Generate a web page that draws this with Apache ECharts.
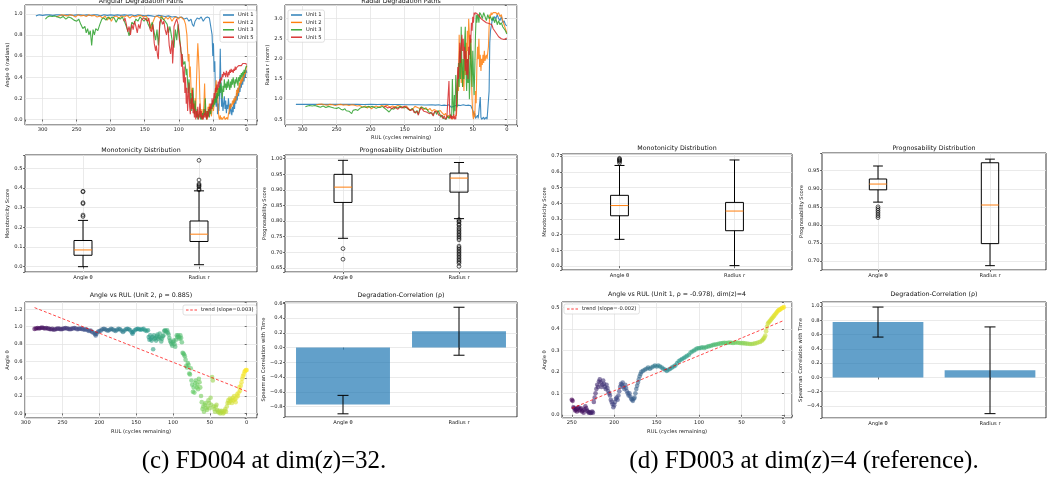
<!DOCTYPE html>
<html>
<head>
<meta charset="utf-8">
<title>Degradation paths FD004 / FD003</title>
<script src="https://cdn.jsdelivr.net/npm/echarts@6/dist/echarts.min.js"></script>
<style>
html, body { margin: 0; padding: 0; background: #fff; }
#container { width: 1053px; height: 482px; }
</style>
</head>
<body>
<div id="container"></div>
<script>
// ---- data: top row (FD004, dim(z)=32), [RUL, value]
var angU1 = [[310,0.98],[305,0.99],[300,0.985],[295,0.99],[290,0.99],[285,0.985],[280,0.99],[275,0.99],[270,0.985],[265,0.99],[260,0.99],[255,0.985],[250,0.99],[245,0.99],[240,0.985],[235,0.99],[230,0.985],[225,0.99],[220,0.99],[215,0.98],[210,0.99],[205,0.985],[200,0.99],[195,0.985],[190,0.99],[185,0.985],[180,0.99],[175,0.985],[170,0.99],[165,0.98],[160,0.99],[155,0.985],[150,0.98],[145,0.985],[140,0.98],[135,0.975],[130,0.985],[125,0.98],[120,0.975],[115,0.98],[110,0.97],[105,0.975],[100,0.96],[96,0.97],[92,0.95],[88,0.96],[85,0.93],[82,0.95],[80,0.9],[78,0.88],[76,0.93],[73,0.96],[70,0.95],[67,0.97],[64,0.93],[61,0.96],[58,0.97],[55,0.96],[53,0.97],[51,0.8],[50,0.6],[49,0.72],[48,0.45],[47,0.55],[46,0.2],[45,0.12],[44,0.3],[43,0.05],[42,0.15],[41,0.08],[40,0.25],[39,0.67],[38,0.3],[37,0.12],[36,0.2],[35,0.08],[34,0.15],[33,0.22],[32,0.1],[31,0.18],[30,0.06],[29,0.14],[28,0.1],[27,0.2],[26,0.12],[25,0.05],[24,0.15],[23,0.08],[22,0.04],[21,0.12],[20,0.07],[19,0.18],[18,0.1],[17,0.22],[16,0.15],[15,0.25],[14,0.18],[13,0.3],[12,0.22],[11,0.32],[10,0.26],[9,0.35],[8,0.3],[7,0.38],[6,0.33],[5,0.42],[4,0.36],[3,0.45],[2,0.4],[1,0.47],[0,0.44]];
var angU2 = [[280,0.97],[276,0.98],[272,0.99],[268,0.985],[264,0.98],[260,0.99],[256,0.985],[252,0.97],[248,0.99],[244,0.98],[240,0.985],[236,0.975],[232,0.99],[228,0.98],[224,0.985],[220,0.97],[216,0.98],[212,0.96],[208,0.98],[205,0.94],[202,0.97],[199,0.93],[196,0.97],[192,0.98],[188,0.96],[184,0.98],[180,0.97],[176,0.985],[172,0.96],[168,0.98],[164,0.97],[160,0.98],[156,0.985],[152,0.97],[148,0.98],[145,0.95],[142,0.9],[140,0.85],[138,0.92],[135,0.97],[132,0.98],[128,0.96],[125,0.98],[122,0.94],[119,0.97],[116,0.95],[113,0.97],[110,0.93],[107,0.96],[104,0.97],[101,0.95],[98,0.97],[95,0.96],[92,0.94],[90,0.9],[88,0.8],[87,0.65],[86,0.55],[85,0.62],[84,0.4],[83,0.5],[82,0.3],[81,0.22],[80,0.3],[79,0.1],[78,0.15],[77,0.05],[76,0.2],[75,0.1],[74,0.35],[73,0.55],[72,0.72],[71,0.6],[70,0.45],[69,0.2],[68,0.08],[67,0.02],[66,0.1],[65,0.0],[64,0.05],[63,0.15],[62,0.34],[61,0.1],[60,0.02],[59,0.08],[58,0.0],[57,0.12],[56,0.05],[55,0.15],[54,0.06],[53,0.12],[52,0.03],[51,0.1],[50,0.18],[49,0.08],[48,0.14],[47,0.22],[46,0.3],[45,0.37],[44,0.2],[43,0.3],[42,0.1],[41,0.02],[40,0.0],[39,0.04],[38,0.0],[37,0.02],[36,0.0],[35,0.01],[34,0.0],[33,0.03],[32,0.0],[31,0.01],[30,0.0],[29,0.02],[28,0.0],[27,0.05],[26,0.08],[25,0.14],[24,0.1],[23,0.15],[22,0.12],[21,0.18],[20,0.14],[19,0.2],[18,0.16],[17,0.22],[16,0.18],[15,0.28],[14,0.22],[13,0.3],[12,0.25],[11,0.35],[10,0.3],[9,0.38],[8,0.34],[7,0.4],[6,0.36],[5,0.42],[4,0.4],[3,0.45],[2,0.43],[1,0.48],[0,0.51]];
var angU3 = [[296,0.95],[293,0.97],[290,0.98],[286,0.975],[282,0.98],[278,0.97],[274,0.96],[270,0.975],[266,0.95],[262,0.97],[258,0.96],[254,0.94],[250,0.93],[247,0.95],[244,0.9],[241,0.86],[238,0.88],[236,0.82],[234,0.86],[232,0.8],[230,0.84],[228,0.7],[226,0.85],[224,0.8],[222,0.86],[219,0.84],[216,0.9],[213,0.95],[210,0.96],[207,0.94],[204,0.97],[201,0.95],[198,0.97],[195,0.96],[192,0.92],[189,0.96],[186,0.95],[183,0.97],[180,0.93],[177,0.88],[175,0.84],[173,0.79],[171,0.85],[169,0.92],[166,0.9],[163,0.95],[160,0.93],[157,0.97],[154,0.95],[151,0.93],[148,0.96],[145,0.9],[142,0.86],[139,0.92],[136,0.82],[134,0.75],[132,0.85],[130,0.7],[128,0.88],[126,0.97],[123,0.95],[120,0.93],[117,0.9],[115,0.82],[113,0.88],[111,0.8],[109,0.72],[107,0.68],[105,0.85],[103,0.75],[101,0.9],[99,0.8],[97,0.65],[95,0.6],[93,0.52],[91,0.55],[89,0.42],[88,0.48],[87,0.35],[86,0.25],[85,0.38],[84,0.3],[83,0.15],[82,0.25],[81,0.08],[80,0.2],[79,0.3],[78,0.12],[77,0.05],[76,0.18],[75,0.08],[74,0.02],[73,0.1],[72,0.0],[71,0.05],[70,0.02],[69,0.08],[68,0.0],[67,0.03],[66,0.0],[65,0.06],[64,0.02],[63,0.1],[62,0.04],[61,0.2],[60,0.05],[59,0.0],[58,0.08],[57,0.03],[56,0.1],[55,0.02],[54,0.12],[53,0.05],[52,0.15],[51,0.1],[50,0.18],[49,0.12],[48,0.2],[47,0.14],[46,0.22],[45,0.16],[44,0.25],[43,0.2],[42,0.3],[41,0.22],[40,0.32],[39,0.25],[38,0.35],[37,0.28],[36,0.2],[35,0.32],[34,0.26],[33,0.38],[32,0.3],[31,0.34],[30,0.28],[29,0.36],[28,0.3],[27,0.38],[26,0.32],[25,0.28],[24,0.36],[23,0.3],[22,0.38],[21,0.33],[20,0.4],[19,0.35],[18,0.3],[17,0.38],[16,0.34],[15,0.4],[14,0.36],[13,0.32],[12,0.4],[11,0.36],[10,0.42],[9,0.38],[8,0.44],[7,0.4],[6,0.45],[5,0.42],[4,0.47],[3,0.44],[2,0.48],[1,0.5],[0,0.51]];
var angU5 = [[181,0.93],[179,0.96],[177,0.9],[175,0.83],[173,0.88],[171,0.8],[169,0.9],[167,0.85],[165,0.93],[163,0.88],[161,0.82],[159,0.9],[157,0.86],[155,0.94],[152,0.96],[149,0.95],[146,0.93],[144,0.96],[142,0.85],[140,0.83],[138,0.9],[136,0.72],[134,0.65],[133,0.7],[131,0.6],[130,0.57],[129,0.75],[128,0.92],[126,0.95],[124,0.9],[122,0.93],[120,0.85],[118,0.8],[116,0.88],[114,0.7],[112,0.62],[110,0.75],[109,0.53],[108,0.65],[107,0.88],[105,0.92],[103,0.95],[101,0.9],[99,0.75],[97,0.68],[96,0.5],[95,0.62],[94,0.45],[93,0.35],[92,0.5],[91,0.25],[90,0.4],[89,0.15],[88,0.3],[87,0.08],[86,0.22],[85,0.35],[84,0.12],[83,0.05],[82,0.2],[81,0.1],[80,0.28],[79,0.06],[78,0.15],[77,0.02],[76,0.1],[75,0.0],[74,0.08],[73,0.02],[72,0.12],[71,0.0],[70,0.05],[69,0.15],[68,0.02],[67,0.08],[66,0.0],[65,0.04],[64,0.0],[63,0.06],[62,0.02],[61,0.1],[60,0.03],[59,0.0],[58,0.08],[57,0.02],[56,0.06],[55,0.12],[54,0.08],[53,0.15],[52,0.1],[51,0.2],[50,0.14],[49,0.18],[48,0.25],[47,0.2],[46,0.3],[45,0.26],[44,0.33],[43,0.28],[42,0.36],[41,0.3],[40,0.38],[39,0.34],[38,0.4],[37,0.37],[36,0.43],[35,0.4],[34,0.45],[33,0.42],[32,0.44],[31,0.4],[30,0.46],[29,0.43],[28,0.4],[27,0.45],[26,0.42],[25,0.47],[24,0.44],[23,0.48],[22,0.45],[21,0.47],[20,0.44],[19,0.48],[18,0.46],[17,0.5],[16,0.47],[15,0.49],[14,0.5],[12,0.51],[10,0.52],[8,0.51],[6,0.53],[4,0.52],[2,0.53],[0,0.52]];

var radU1 = [[310,0.87],[300,0.87],[290,0.87],[280,0.87],[270,0.87],[260,0.87],[250,0.87],[240,0.87],[230,0.87],[220,0.87],[210,0.865],[200,0.87],[190,0.865],[180,0.87],[170,0.865],[160,0.865],[150,0.86],[140,0.86],[130,0.86],[120,0.855],[110,0.86],[105,0.85],[100,0.86],[96,0.84],[92,0.85],[88,0.84],[85,0.86],[82,0.8],[80,0.77],[78,0.82],[75,0.84],[72,0.85],[68,0.84],[64,0.86],[60,0.84],[56,0.85],[53,0.84],[51,0.8],[50,0.72],[49,0.75],[48,0.6],[47,0.65],[46,0.52],[45,0.55],[44,0.5],[43,0.6],[42,0.52],[41,0.55],[40,0.5],[39,1.05],[38,0.55],[37,0.5],[36,0.52],[35,0.5],[34,0.55],[33,0.5],[32,0.52],[31,0.5],[30,0.55],[29,0.5],[28,0.52],[27,0.5],[26,1.2],[25,2.4],[24,2.7],[23,2.8],[22,2.9],[21,3.0],[20,2.95],[18,3.05],[16,3.0],[14,3.1],[12,3.0],[10,2.95],[8,3.05],[6,2.9],[4,2.95],[2,2.85],[0,2.82]];
var radU2 = [[280,0.86],[276,0.87],[272,0.88],[268,0.86],[264,0.85],[260,0.87],[256,0.86],[252,0.84],[248,0.86],[244,0.87],[240,0.85],[236,0.86],[232,0.84],[228,0.86],[224,0.85],[220,0.83],[216,0.84],[212,0.8],[208,0.83],[205,0.78],[202,0.82],[199,0.76],[196,0.8],[192,0.83],[188,0.8],[184,0.84],[180,0.82],[176,0.85],[172,0.8],[168,0.83],[164,0.81],[160,0.84],[156,0.82],[152,0.8],[148,0.83],[145,0.78],[142,0.72],[140,0.68],[138,0.76],[135,0.82],[132,0.8],[128,0.77],[125,0.81],[122,0.74],[119,0.79],[116,0.72],[113,0.77],[110,0.7],[107,0.74],[104,0.72],[101,0.68],[98,0.72],[95,0.66],[92,0.6],[90,0.65],[88,0.55],[86,0.6],[84,0.52],[82,0.58],[80,0.5],[78,0.55],[76,0.52],[74,0.6],[73,0.9],[72,1.5],[71,1.2],[70,2.6],[69,1.8],[68,2.2],[67,1.4],[66,2.0],[65,1.3],[64,1.7],[63,1.2],[62,2.1],[61,1.6],[60,2.4],[59,1.9],[58,2.7],[57,2.2],[56,3.0],[55,2.6],[54,2.0],[53,2.5],[52,1.5],[51,1.0],[50,0.6],[49,0.5],[48,0.7],[47,0.55],[46,1.2],[45,0.9],[44,1.8],[43,2.3],[42,2.0],[41,2.5],[40,1.8],[39,2.1],[38,1.7],[37,2.0],[36,1.85],[35,2.1],[34,1.9],[33,2.2],[32,1.95],[31,2.05],[30,2.1],[29,2.0],[28,2.15],[27,2.3],[26,2.8],[25,3.1],[24,3.05],[23,3.15],[22,3.1],[20,3.15],[18,3.12],[16,3.15],[14,3.1],[12,3.15],[10,3.05],[8,3.1],[6,2.95],[4,2.85],[2,2.75],[0,2.65]];
var radU3 = [[296,0.81],[293,0.83],[290,0.84],[286,0.83],[282,0.84],[278,0.82],[274,0.8],[270,0.83],[266,0.79],[262,0.82],[258,0.8],[254,0.78],[250,0.77],[247,0.79],[244,0.75],[241,0.73],[238,0.76],[236,0.71],[234,0.74],[232,0.7],[230,0.72],[228,0.64],[226,0.72],[224,0.7],[222,0.74],[219,0.72],[216,0.77],[213,0.8],[210,0.81],[207,0.79],[204,0.82],[201,0.8],[198,0.82],[195,0.8],[192,0.77],[189,0.8],[186,0.79],[183,0.82],[180,0.78],[177,0.74],[175,0.72],[173,0.68],[171,0.72],[169,0.77],[166,0.75],[163,0.8],[160,0.78],[157,0.82],[154,0.8],[151,0.78],[148,0.8],[145,0.75],[142,0.72],[139,0.77],[136,0.7],[134,0.65],[132,0.72],[130,0.62],[128,0.75],[126,0.8],[123,0.78],[120,0.76],[117,0.74],[115,0.68],[113,0.72],[111,0.66],[109,0.6],[107,0.58],[105,0.7],[103,0.62],[101,0.72],[99,0.65],[97,0.55],[95,0.6],[93,0.52],[91,0.56],[89,0.5],[87,0.58],[85,0.52],[83,0.62],[81,0.55],[80,1.5],[79,0.9],[78,0.6],[77,1.1],[76,0.7],[75,1.6],[74,1.2],[73,0.8],[72,1.4],[71,1.9],[70,1.3],[69,2.2],[68,1.5],[67,2.8],[66,1.8],[65,1.3],[64,2.0],[63,1.5],[62,2.4],[61,2.8],[60,1.7],[59,1.2],[58,2.0],[57,1.4],[56,2.2],[55,1.0],[54,1.6],[53,2.5],[52,1.8],[51,1.3],[50,2.2],[49,1.6],[48,1.1],[47,1.8],[46,2.6],[45,3.1],[44,2.9],[43,3.1],[42,3.05],[41,2.9],[40,3.15],[38,3.1],[36,3.0],[34,3.15],[32,3.05],[30,2.95],[28,3.1],[26,3.0],[24,3.05],[22,2.95],[20,3.05],[18,2.9],[16,3.0],[14,2.85],[12,2.95],[10,2.85],[8,2.9],[6,2.8],[4,2.75],[2,2.7],[0,2.62]];
var radU5 = [[181,0.8],[178,0.82],[175,0.78],[172,0.8],[169,0.76],[166,0.8],[163,0.78],[160,0.75],[157,0.8],[154,0.78],[151,0.82],[148,0.8],[145,0.76],[142,0.72],[140,0.7],[138,0.74],[136,0.66],[134,0.62],[132,0.7],[130,0.6],[128,0.72],[126,0.78],[124,0.75],[122,0.7],[120,0.74],[118,0.68],[116,0.72],[114,0.64],[112,0.6],[110,0.66],[108,0.58],[106,0.7],[104,0.74],[102,0.68],[100,0.6],[98,0.56],[96,0.6],[94,0.52],[92,0.58],[90,0.5],[88,0.56],[86,0.52],[85,1.45],[84,0.7],[83,0.52],[82,0.6],[81,0.5],[80,0.58],[79,0.52],[78,0.62],[77,0.5],[76,0.56],[75,0.5],[74,0.8],[73,1.4],[72,1.8],[71,1.5],[70,2.0],[69,2.4],[68,1.9],[67,2.3],[66,2.6],[65,2.2],[64,2.5],[63,2.0],[62,2.3],[61,1.7],[60,2.2],[59,1.6],[58,2.0],[57,1.5],[56,2.3],[55,2.1],[54,2.6],[53,2.4],[52,2.9],[51,2.7],[50,3.05],[49,2.9],[48,3.15],[47,3.1],[46,3.15],[44,3.12],[42,3.1],[40,3.05],[38,3.0],[36,3.02],[34,2.95],[32,2.98],[30,2.9],[28,2.92],[26,2.88],[24,2.9],[22,2.85],[20,2.75],[18,2.7],[16,2.65],[14,2.6],[12,2.55],[10,2.55],[8,2.5],[6,2.52],[4,2.48],[2,2.5],[0,2.52]];

// ---- box statistics: [whiskerLow, Q1, median, Q3, whiskerHigh] for Angle θ, Radius r
var boxCats = ['Angle θ', 'Radius r'];
var monoC = [[0.0, 0.058, 0.085, 0.133, 0.235], [0.01, 0.128, 0.165, 0.232, 0.385]];
var monoCOut = [[0.255, 0.262, 0.32, 0.325, 0.38, 0.383], [0.39, 0.395, 0.405, 0.41, 0.415, 0.42, 0.44, 0.54]];
var prognC = [[0.745, 0.86, 0.909, 0.95, 0.995], [0.808, 0.893, 0.938, 0.954, 0.988]];
var prognCOut = [[0.712, 0.678], [0.805, 0.8, 0.797, 0.79, 0.787, 0.78, 0.775, 0.77, 0.765, 0.76, 0.755, 0.75, 0.745, 0.74, 0.72, 0.715, 0.71, 0.705, 0.7, 0.695, 0.69, 0.685, 0.68, 0.675, 0.67, 0.665, 0.655]];
var monoD = [[0.17, 0.32, 0.385, 0.45, 0.64], [0.003, 0.225, 0.35, 0.405, 0.675]];
var monoDOut = [[0.655, 0.665, 0.67, 0.675, 0.68, 0.685], []];
var prognD = [[0.863, 0.897, 0.913, 0.927, 0.963], [0.687, 0.748, 0.855, 0.972, 0.982]];
var prognDOut = [[0.85, 0.845, 0.84, 0.835, 0.83, 0.825, 0.82], []];

// ---- angle vs RUL scatter, [RUL, angle]
var scatC = [[288,0.975],[286,0.98],[284,0.985],[282,0.98],[280,0.985],[278,0.99],[276,0.985],[274,0.98],[272,0.985],[270,0.98],[268,0.975],[266,0.97],[264,0.975],[262,0.965],[260,0.97],[258,0.975],[256,0.98],[254,0.975],[252,0.97],[250,0.975],[248,0.98],[246,0.985],[244,0.98],[242,0.975],[240,0.97],[238,0.975],[236,0.98],[234,0.985],[232,0.98],[230,0.97],[228,0.975],[226,0.98],[224,0.975],[222,0.97],[220,0.965],[218,0.97],[216,0.96],[214,0.95],[212,0.955],[210,0.94],[208,0.93],[206,0.915],[205,0.9],[204,0.92],[202,0.94],[200,0.95],[198,0.955],[196,0.97],[194,0.975],[192,0.97],[190,0.96],[188,0.955],[186,0.965],[184,0.975],[182,0.97],[180,0.96],[178,0.95],[176,0.965],[174,0.975],[172,0.97],[170,0.955],[168,0.94],[166,0.955],[164,0.97],[162,0.975],[160,0.97],[158,0.96],[156,0.935],[155,0.92],[154,0.94],[152,0.96],[150,0.97],[148,0.975],[146,0.97],[144,0.965],[142,0.97],[140,0.975],[138,0.96],[136,0.95],[134,0.96],[133,0.88],[132,0.85],[131,0.9],[130,0.86],[129,0.84],[128,0.88],[127,0.74],[126,0.9],[125,0.86],[124,0.87],[123,0.84],[122,0.89],[121,0.91],[120,0.86],[119,0.88],[118,0.92],[117,0.87],[116,0.83],[115,0.86],[114,0.89],[113,0.9],[112,0.95],[111,0.96],[110,0.95],[109,0.94],[108,0.96],[107,0.93],[106,0.91],[105,0.87],[104,0.84],[103,0.82],[102,0.8],[101,0.78],[100,0.82],[99,0.84],[98,0.8],[97,0.77],[96,0.85],[95,0.9],[94,0.88],[93,0.9],[92,0.88],[91,0.86],[90,0.9],[89,0.87],[88,0.82],[87,0.7],[86,0.69],[85,0.68],[84,0.66],[83,0.62],[82,0.55],[81,0.53],[80,0.58],[79,0.56],[78,0.46],[77,0.45],[76,0.52],[75,0.38],[74,0.33],[73,0.25],[72,0.3],[71,0.24],[70,0.35],[69,0.38],[68,0.3],[67,0.33],[66,0.28],[65,0.4],[64,0.36],[63,0.3],[62,0.2],[61,0.13],[60,0.05],[59,0.08],[58,0.02],[57,0.1],[56,0.12],[55,0.06],[54,0.04],[53,0.08],[52,0.15],[51,0.12],[50,0.06],[49,0.18],[48,0.1],[47,0.42],[46,0.38],[45,0.08],[44,0.05],[43,0.02],[42,0.08],[41,0.1],[40,0.04],[39,0.02],[38,0.01],[37,0.03],[36,0.0],[35,0.01],[34,0.03],[33,0.02],[32,0.0],[31,0.01],[30,0.03],[29,0.05],[28,0.02],[27,0.08],[26,0.12],[25,0.15],[24,0.12],[23,0.17],[22,0.14],[21,0.16],[20,0.12],[19,0.18],[18,0.15],[17,0.2],[16,0.16],[15,0.13],[14,0.18],[13,0.22],[12,0.2],[11,0.24],[10,0.3],[9,0.26],[8,0.32],[7,0.36],[6,0.4],[5,0.43],[4,0.45],[3,0.48],[2,0.49],[1,0.5],[0,0.5]];
var scatD = [[250,0.07],[249,0.065],[248,0.035],[247,0.03],[246,0.02],[245,0.025],[244,0.015],[243,0.03],[242,0.035],[241,0.02],[240,0.025],[239,0.03],[238,0.015],[237,0.02],[236,0.01],[235,0.025],[234,0.04],[233,0.03],[232,0.02],[231,0.015],[230,0.01],[229,0.012],[228,0.008],[227,0.01],[226,0.015],[225,0.01],[224,0.06],[223,0.08],[222,0.1],[221,0.12],[220,0.14],[219,0.13],[218,0.155],[217,0.165],[216,0.15],[215,0.13],[214,0.14],[213,0.16],[212,0.145],[211,0.13],[210,0.12],[209,0.14],[208,0.125],[207,0.11],[206,0.1],[205,0.09],[204,0.07],[203,0.06],[202,0.05],[201,0.035],[200,0.045],[199,0.06],[198,0.075],[197,0.08],[196,0.07],[195,0.09],[194,0.11],[193,0.13],[192,0.145],[191,0.14],[190,0.15],[189,0.13],[188,0.12],[187,0.14],[186,0.125],[185,0.11],[184,0.1],[183,0.09],[182,0.1],[181,0.085],[180,0.075],[179,0.07],[178,0.065],[177,0.075],[176,0.08],[175,0.1],[174,0.12],[173,0.135],[172,0.15],[171,0.165],[170,0.18],[169,0.19],[168,0.2],[166,0.205],[164,0.21],[162,0.215],[160,0.22],[158,0.215],[156,0.22],[154,0.225],[152,0.23],[150,0.225],[148,0.23],[146,0.225],[144,0.22],[142,0.215],[140,0.21],[138,0.205],[136,0.21],[134,0.215],[132,0.22],[130,0.225],[128,0.23],[126,0.24],[124,0.25],[122,0.255],[120,0.26],[118,0.265],[116,0.27],[114,0.275],[112,0.28],[110,0.29],[108,0.295],[106,0.3],[104,0.305],[102,0.31],[100,0.31],[98,0.312],[96,0.315],[94,0.312],[92,0.315],[90,0.318],[88,0.32],[86,0.322],[84,0.325],[82,0.327],[80,0.328],[78,0.33],[76,0.332],[74,0.333],[72,0.335],[70,0.336],[68,0.335],[66,0.336],[64,0.337],[62,0.336],[60,0.335],[58,0.336],[56,0.337],[54,0.336],[52,0.335],[50,0.334],[48,0.334],[46,0.333],[44,0.332],[42,0.331],[40,0.33],[38,0.33],[36,0.331],[34,0.333],[32,0.335],[30,0.338],[28,0.34],[26,0.345],[25,0.35],[24,0.355],[23,0.36],[22,0.37],[21,0.39],[20,0.41],[19,0.425],[18,0.43],[17,0.435],[16,0.44],[15,0.445],[14,0.45],[13,0.455],[12,0.46],[11,0.465],[10,0.47],[9,0.475],[8,0.48],[7,0.485],[6,0.488],[5,0.49],[4,0.493],[3,0.496],[2,0.498],[1,0.5],[0,0.502]];
var trendC = [[288, 1.22], [0, 0.255]];
var trendD = [[250, 0.03], [0, 0.44]];

// ---- Spearman correlation with time: mean and std
var corrC = [-0.772, 0.222];
var corrCErr = [0.125, 0.325];
var corrD = [0.775, 0.1];
var corrDErr = [0.21, 0.607];

// ---- tick labels
var rulTicks = [300, 250, 200, 150, 100, 50, 0];
var rulTicksD = [250, 200, 150, 100, 50, 0];
var angTicks = [0, 0.2, 0.4, 0.6, 0.8, 1.0];
var radTicks = [0.5, 1.0, 1.5, 2.0, 2.5, 3.0];
var monoTicksC = [0, 0.1, 0.2, 0.3, 0.4, 0.5];
var prognTicksC = [0.65, 0.7, 0.75, 0.8, 0.85, 0.9, 0.95, 1.0];
var monoTicksD = [0, 0.1, 0.2, 0.3, 0.4, 0.5, 0.6, 0.7];
var prognTicksD = [0.7, 0.75, 0.8, 0.85, 0.9, 0.95];
var angTicksC = [0, 0.2, 0.4, 0.6, 0.8, 1.0, 1.2];
var corrTicksC = [-0.8, -0.6, -0.4, -0.2, 0, 0.2, 0.4, 0.6];
var angTicksD = [0, 0.1, 0.2, 0.3, 0.4, 0.5];
var corrTicksD = [-0.4, -0.2, 0, 0.2, 0.4, 0.6, 0.8, 1.0];

var FONT = 'DejaVu Sans';
var TICK = 5.2;
var GRID_LINE = {color: '#e4e4e4', width: 0.8};
var UNIT_COLORS = ['#1f77b4', '#ff7f0e', '#2ca02c', '#d62728'];
var VIRIDIS = ['#fde725', '#5ec962', '#21918c', '#3b528b', '#440154'];

function hasTick(list, v) {
    for (var i = 0; i < list.length; i++) {
        if (Math.abs(list[i] - v) < 1e-6) return true;
    }
    return false;
}
function fmtNum(v, dec) {
    if (Math.abs(v) < 1e-9) return (0).toFixed(dec);
    return v < 0 ? '\u2212' + (-v).toFixed(dec) : v.toFixed(dec);
}

function valAxis(gi, min, max, step, ticks, dec, extra) {
    var ax = {
        type: 'value', gridIndex: gi, min: min, max: max,
        minInterval: step, maxInterval: step,
        axisLine: {show: false},
        axisTick: {show: true, length: 2, lineStyle: {color: '#333', width: 0.7}},
        axisLabel: {
            fontSize: TICK, fontFamily: FONT, color: '#222', margin: 2.5,
            formatter: function (v) { return hasTick(ticks, v) ? fmtNum(v, dec) : ''; }
        },
        splitLine: {show: true, lineStyle: GRID_LINE},
        nameLocation: 'middle',
        nameTextStyle: {fontSize: TICK, fontFamily: FONT, color: '#222'}
    };
    for (var k in extra) ax[k] = extra[k];
    return ax;
}
function catAxis(gi, grid) {
    return {
        type: 'category', gridIndex: gi, data: boxCats, boundaryGap: true,
        axisLine: {show: false},
        axisTick: {show: true, alignWithLabel: true, length: 2, lineStyle: {color: '#333', width: 0.7}},
        axisLabel: {fontSize: TICK, fontFamily: FONT, color: '#222', margin: 3},
        splitLine: {show: grid, alignWithLabel: true, lineStyle: GRID_LINE}
    };
}

function renderBox(params, api) {
    var c = api.value(0);
    var lo = api.coord([c, api.value(1)]);
    var q1 = api.coord([c, api.value(2)]);
    var md = api.coord([c, api.value(3)]);
    var q3 = api.coord([c, api.value(4)]);
    var hi = api.coord([c, api.value(5)]);
    var bw = api.size([1, 0])[0] * 0.155;
    var cw = bw * 0.28;
    var x = lo[0];
    var st = {stroke: '#000', lineWidth: 1, fill: null};
    return {type: 'group', children: [
        {type: 'rect', shape: {x: x - bw / 2, y: q3[1], width: bw, height: q1[1] - q3[1]}, style: {fill: 'none', stroke: '#000', lineWidth: 1}},
        {type: 'line', shape: {x1: x, y1: q1[1], x2: x, y2: lo[1]}, style: st},
        {type: 'line', shape: {x1: x, y1: q3[1], x2: x, y2: hi[1]}, style: st},
        {type: 'line', shape: {x1: x - cw, y1: lo[1], x2: x + cw, y2: lo[1]}, style: st},
        {type: 'line', shape: {x1: x - cw, y1: hi[1], x2: x + cw, y2: hi[1]}, style: st},
        {type: 'line', shape: {x1: x - bw / 2, y1: md[1], x2: x + bw / 2, y2: md[1]}, style: {stroke: '#ff7f0e', lineWidth: 1}}
    ]};
}
function renderErr(params, api) {
    var c = api.value(0), m = api.value(1), e = api.value(2);
    var top = api.coord([c, m + e]);
    var bot = api.coord([c, m - e]);
    var x = top[0], cap = 5.5;
    var st = {stroke: '#000', lineWidth: 1};
    return {type: 'group', children: [
        {type: 'line', shape: {x1: x, y1: top[1], x2: x, y2: bot[1]}, style: st},
        {type: 'line', shape: {x1: x - cap, y1: top[1], x2: x + cap, y2: top[1]}, style: st},
        {type: 'line', shape: {x1: x - cap, y1: bot[1], x2: x + cap, y2: bot[1]}, style: st}
    ]};
}

var series = [];
function add(s) { s.animation = false; series.push(s); return series.length - 1; }

function lineSeries(name, data, color, gi) {
    return {type: 'line', name: name, xAxisIndex: gi, yAxisIndex: gi, data: data,
        symbol: 'none', showSymbol: false, silent: true,
        lineStyle: {color: color, width: 1.1, opacity: 0.85}, itemStyle: {color: color}};
}
function boxSeries(gi, stats) {
    return {type: 'custom', xAxisIndex: gi, yAxisIndex: gi, renderItem: renderBox, silent: true, z: 3,
        data: stats.map(function (s, i) { return [i].concat(s); }),
        encode: {x: 0, y: [1, 2, 3, 4, 5]}};
}
function outlierSeries(gi, lists) {
    var pts = [];
    lists.forEach(function (list, i) { list.forEach(function (v) { pts.push([i, v]); }); });
    return {type: 'scatter', xAxisIndex: gi, yAxisIndex: gi, data: pts, symbol: 'circle', symbolSize: 3.8, silent: true, z: 4,
        itemStyle: {color: 'rgba(0,0,0,0)', borderColor: '#000', borderWidth: 0.8}};
}
function barSeries(gi, vals) {
    return {type: 'bar', xAxisIndex: gi, yAxisIndex: gi, data: vals, barWidth: '81%', silent: true,
        itemStyle: {color: '#1f77b4', opacity: 0.7}};
}
function errSeries(gi, vals, errs) {
    return {type: 'custom', xAxisIndex: gi, yAxisIndex: gi, renderItem: renderErr, silent: true, z: 5,
        data: vals.map(function (v, i) { return [i, v, errs[i]]; }), encode: {x: 0, y: 1}};
}
function trendSeries(name, data, gi) {
    return {type: 'line', name: name, xAxisIndex: gi, yAxisIndex: gi, data: data, symbol: 'none', silent: true, z: 6,
        lineStyle: {type: [3, 2], color: '#ff0000', width: 0.9, opacity: 0.8}, itemStyle: {color: '#ff4040'}};
}

var unitNames = ['Unit 1', 'Unit 2', 'Unit 3', 'Unit 5'];
[angU1, angU2, angU3, angU5].forEach(function (d, i) { add(lineSeries(unitNames[i], d, UNIT_COLORS[i], 0)); });
[radU1, radU2, radU3, radU5].forEach(function (d, i) { add(lineSeries(unitNames[i], d, UNIT_COLORS[i], 1)); });
add(boxSeries(2, monoC));  add(outlierSeries(2, monoCOut));
add(boxSeries(3, prognC)); add(outlierSeries(3, prognCOut));
add(boxSeries(4, monoD));  add(outlierSeries(4, monoDOut));
add(boxSeries(5, prognD)); add(outlierSeries(5, prognDOut));
var scatCIdx = add({type: 'scatter', xAxisIndex: 6, yAxisIndex: 6, data: scatC, symbolSize: 4.6, silent: true, itemStyle: {opacity: 0.6}});
add(trendSeries('trend (slope=0.003)', trendC, 6));
add(barSeries(7, corrC)); add(errSeries(7, corrC, corrCErr));
var scatDIdx = add({type: 'scatter', xAxisIndex: 8, yAxisIndex: 8, data: scatD, symbolSize: 4.6, silent: true, itemStyle: {opacity: 0.6}});
add(trendSeries('trend (slope=-0.002)', trendD, 8));
add(barSeries(9, corrD)); add(errSeries(9, corrD, corrDErr));

var grids = [
    {left: 25, top: 5, width: 232, height: 120},
    {left: 285, top: 5, width: 232, height: 120},
    {left: 25, top: 155, width: 232, height: 117},
    {left: 285, top: 155, width: 232, height: 117},
    {left: 562, top: 154, width: 230, height: 116},
    {left: 822, top: 153, width: 224, height: 117},
    {left: 25, top: 302, width: 232, height: 116},
    {left: 285, top: 302, width: 232, height: 115},
    {left: 562, top: 302, width: 230, height: 116},
    {left: 822, top: 302, width: 224, height: 116}
];
grids.forEach(function (g) { g.show = true; g.borderColor = '#222'; g.borderWidth = 0.9; g.backgroundColor = 'rgba(0,0,0,0)'; });

var rulName = {name: 'RUL (cycles remaining)', nameGap: 10};
var xAxes = [
    valAxis(0, -15, 326, 50, rulTicks, 0, {inverse: true}),
    valAxis(1, -15, 326, 50, rulTicks, 0, {inverse: true, name: rulName.name, nameGap: rulName.nameGap}),
    catAxis(2, true), catAxis(3, true), catAxis(4, true), catAxis(5, true),
    valAxis(6, -14, 301, 50, rulTicks, 0, {inverse: true, name: rulName.name, nameGap: 11}),
    catAxis(7, false),
    valAxis(8, -9.5, 261.5, 50, rulTicksD, 0, {inverse: true, name: rulName.name, nameGap: 11}),
    catAxis(9, false)
];
var yAxes = [
    valAxis(0, -0.052, 1.083, 0.2, angTicks, 1, {name: 'Angle θ (radians)', nameGap: 11}),
    valAxis(1, 0.357, 3.34, 0.5, radTicks, 1, {name: 'Radius r (norm)', nameGap: 10}),
    valAxis(2, -0.027, 0.567, 0.1, monoTicksC, 1, {name: 'Monotonicity Score', nameGap: 12}),
    valAxis(3, 0.637, 1.012, 0.05, prognTicksC, 2, {name: 'Prognosability Score', nameGap: 15}),
    valAxis(4, -0.025, 0.713, 0.1, monoTicksD, 1, {name: 'Monotonicity Score', nameGap: 12}),
    valAxis(5, 0.675, 0.999, 0.05, prognTicksD, 2, {name: 'Prognosability Score', nameGap: 15}),
    valAxis(6, -0.053, 1.285, 0.2, angTicksC, 1, {name: 'Angle θ', nameGap: 12}),
    valAxis(7, -0.94, 0.618, 0.2, corrTicksC, 1, {name: 'Spearman Correlation with Time', nameGap: 14}),
    valAxis(8, -0.015, 0.526, 0.1, angTicksD, 1, {name: 'Angle θ', nameGap: 12}),
    valAxis(9, -0.568, 1.056, 0.2, corrTicksD, 1, {name: 'Spearman Correlation with Time', nameGap: 14})
];

function subTitle(text, cx, top) {
    return {text: text, left: cx, top: top, textAlign: 'center', padding: 0,
        textStyle: {fontFamily: FONT, fontSize: 6.3, fontWeight: 'normal', color: '#111'}};
}
function caption(text, cx) {
    var st = {fontFamily: 'Liberation Serif', fontSize: 25, fontWeight: 'normal', color: '#000'};
    return {text: text, left: cx, top: 449, textAlign: 'center', padding: 0,
        textStyle: {fontFamily: st.fontFamily, fontSize: st.fontSize, fontWeight: 'normal', color: '#000',
            rich: {i: {fontFamily: st.fontFamily, fontSize: st.fontSize, fontStyle: 'italic', color: '#000'}}}};
}

function legendBox(data, left, top, icon, w, h) {
    return {data: data, left: left, top: top, orient: 'vertical', selectedMode: false,
        icon: icon, itemWidth: w, itemHeight: h, itemGap: 2.4, padding: [2.5, 3, 2.5, 3],
        backgroundColor: 'rgba(255,255,255,0.85)', borderColor: '#cccccc', borderWidth: 0.6, borderRadius: 2,
        textStyle: {fontFamily: FONT, fontSize: TICK, color: '#222', padding: [0, 0, 0, -1]}};
}
var dashIcon = 'path://M0,0h3v1h-3zM5,0h3v1h-3zM10,0h3v1h-3z';

var option = {
    animation: false,
    textStyle: {fontFamily: FONT},
    title: [
        subTitle('Angular Degradation Paths', 141, -1.5),
        subTitle('Radial Degradation Paths', 401, -1.5),
        subTitle('Monotonicity Distribution', 141, 147),
        subTitle('Prognosability Distribution', 401, 147),
        subTitle('Monotonicity Distribution', 677, 145),
        subTitle('Prognosability Distribution', 934, 145),
        subTitle('Angle vs RUL (Unit 2, ρ = 0.885)', 141, 292.5),
        subTitle('Degradation-Correlation (ρ)', 401, 292.5),
        subTitle('Angle vs RUL (Unit 1, ρ = -0.978), dim(z)=4', 677, 291.5),
        subTitle('Degradation-Correlation (ρ)', 934, 291.5),
        caption('(c) FD004 at dim({i|z})=32.', 264),
        caption('(d) FD003 at dim({i|z})=4 (reference).', 804)
    ],
    legend: [
        legendBox(unitNames, 220, 10, 'rect', 11, 1.4),
        legendBox(unitNames, 288, 10, 'rect', 11, 1.4),
        legendBox(['trend (slope=0.003)'], 183, 305, dashIcon, 11, 1.2),
        legendBox(['trend (slope=-0.002)'], 564, 304, dashIcon, 11, 1.2)
    ],
    visualMap: [
        {type: 'continuous', show: false, seriesIndex: scatCIdx, dimension: 0, min: 0, max: 288, inRange: {color: VIRIDIS}},
        {type: 'continuous', show: false, seriesIndex: scatDIdx, dimension: 0, min: 0, max: 250, inRange: {color: VIRIDIS}}
    ],
    grid: grids,
    xAxis: xAxes,
    yAxis: yAxes,
    series: series
};

var myChart = echarts.init(document.getElementById('container'));
myChart.setOption(option);
</script>
</body>
</html>
